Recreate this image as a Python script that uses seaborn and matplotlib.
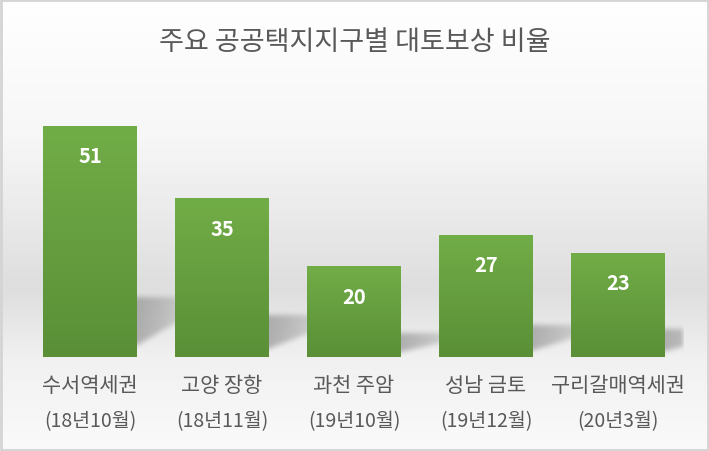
import numpy as np
import pandas as pd
import matplotlib
matplotlib.use("Agg")
import matplotlib.pyplot as plt
import seaborn as sns
from matplotlib.colors import LinearSegmentedColormap
from matplotlib.patches import Rectangle

# ---- data ----
regions = ["수서역세권", "고양 장항", "과천 주암", "성남 금토", "구리갈매역세권"]
periods = ["(18년10월)", "(18년11월)", "(19년10월)", "(19년12월)", "(20년3월)"]
ratios = [51, 35, 20, 27, 23]
title = "주요 공공택지지구별 대토보상 비율"

df = pd.DataFrame({"region": regions, "ratio": ratios})

sns.set_theme(style="white")
plt.rcParams["font.family"] = ["Noto Sans CJK KR", "DejaVu Sans"]

W, H, DPI = 709, 452, 100
fig = plt.figure(figsize=(W / DPI, H / DPI), dpi=DPI)

# background gradient
bg = fig.add_axes([0, 0, 1, 1], zorder=-10)
bg_cmap = LinearSegmentedColormap.from_list(
    "bg", [(0.0, "#ffffff"), (0.3, "#f7f7f7"), (0.64, "#dedede"),
           (0.8, "#f1f1f1"), (1.0, "#fafafa")])
grad = np.linspace(0, 1, 256).reshape(-1, 1)
bg.imshow(grad, aspect="auto", cmap=bg_cmap, extent=[0, 1, 0, 1], origin="upper")
bg.add_patch(Rectangle((0.0015, 0.002), 0.997, 0.995, transform=bg.transAxes,
                       fill=False, edgecolor="#d4d4d4", linewidth=2))
bg.set_axis_off()

AX_W, AX_H = 660, 272
ax = fig.add_axes([24 / W, (H - 358) / H, AX_W / W, AX_H / H])
ax.patch.set_alpha(0)
bw = 94 / 132
sns.barplot(data=df, x="region", y="ratio", color="#6aa540", width=bw,
            ax=ax, saturation=1, zorder=3, linewidth=0, edgecolor="none")
XMIN, XMAX, YMIN, YMAX = -0.5, len(regions) - 0.5, 0, 60
ax.set_xlim(XMIN, XMAX)
ax.set_ylim(YMIN, YMAX)

# soft perspective shadows computed from the bars
xs = np.linspace(XMIN, XMAX, AX_W)
ys = np.linspace(YMIN, YMAX, AX_H)
X, Y = np.meshgrid(xs, ys)
shade = np.zeros_like(X)
for p in ax.patches:
    x0, w, h = p.get_x(), p.get_width(), p.get_height()
    xr = x0 + w
    d = X - xr
    top = h * 0.26
    bot = h * (0.05 + 0.33 * np.clip(d, 0, None))
    inside = (d > -0.2) & (d < 0.45) & (Y > bot) & (Y < top)
    fade = np.clip(1 - np.clip(d, 0, None) / 0.45, 0, 1) ** 0.6
    shade = np.maximum(shade, inside * fade)


def blur(a, r):
    k = np.ones(2 * r + 1) / (2 * r + 1)
    for _ in range(3):
        a = np.apply_along_axis(lambda m: np.convolve(m, k, mode="same"), 0, a)
        a = np.apply_along_axis(lambda m: np.convolve(m, k, mode="same"), 1, a)
    return a


shade = blur(shade, 2)
rgba = np.zeros(shade.shape + (4,))
rgba[..., :3] = 0.45
rgba[..., 3] = shade * 0.5
ax.imshow(rgba, extent=[XMIN, XMAX, YMIN, YMAX], origin="lower",
          aspect="auto", zorder=1, interpolation="bilinear")

bar_cmap = LinearSegmentedColormap.from_list("bar", ["#5a8f37", "#71ad47"])
for p, v in zip(ax.patches, ratios):
    x0, w, h = p.get_x(), p.get_width(), p.get_height()
    im = ax.imshow(np.linspace(0, 1, 100).reshape(-1, 1), cmap=bar_cmap,
                   aspect="auto", extent=[x0, x0 + w, 0, h], origin="lower",
                   zorder=4)
    im.set_clip_path(p)
    ax.annotate(f"{v}", (x0 + w / 2, h), xytext=(0, -21.6),
                textcoords="offset points", ha="center", va="center",
                color="white", fontsize=14.5, fontweight="bold", zorder=5)
ax.set_xlim(XMIN, XMAX)
ax.set_ylim(YMIN, YMAX)

trans = ax.get_xaxis_transform()
for i, (r, pd_) in enumerate(zip(regions, periods)):
    ax.text(i, -28 / AX_H, r, transform=trans, ha="center", va="center",
            fontsize=15, color="#595959")
    ax.text(i, -64 / AX_H, pd_, transform=trans, ha="center", va="center",
            fontsize=14, color="#595959")

ax.set_axis_off()
fig.text(0.5, 1 - 42 / H, title, ha="center", va="center",
         fontsize=19.5, color="#595959")

fig.savefig("out.png", dpi=DPI)
